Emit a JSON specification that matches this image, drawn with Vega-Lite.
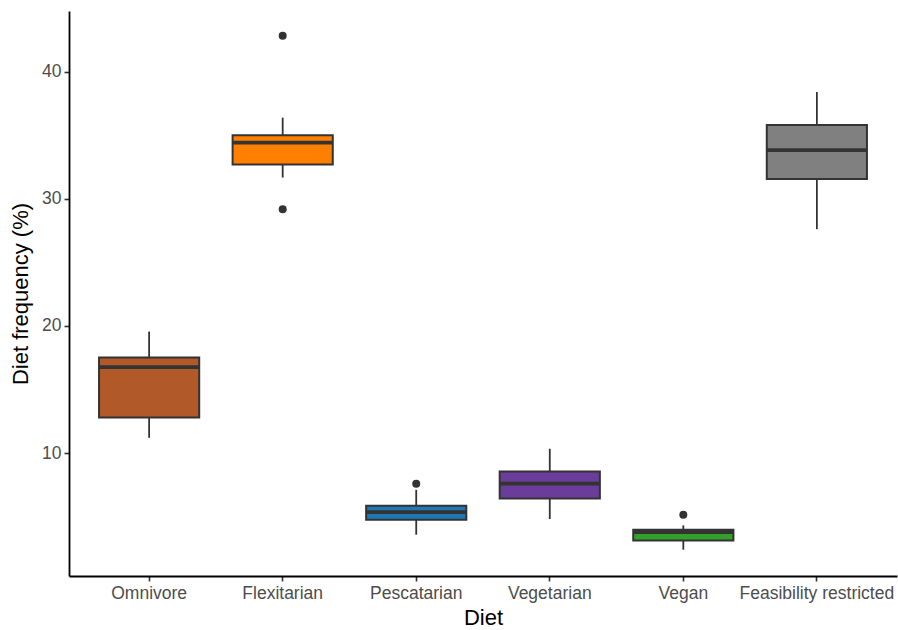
{
  "$schema": "https://vega.github.io/schema/vega-lite/v6.json",
  "autosize": {"type": "none"},
  "width": 828,
  "height": 565,
  "padding": {"left": 69, "top": 11, "right": 1, "bottom": 54},
  "background": "white",
  "config": {
    "view": {"stroke": null},
    "font": "Liberation Sans",
    "axis": {
      "grid": false,
      "domainColor": "#000000",
      "domainWidth": 1.8,
      "tickColor": "#333333",
      "tickWidth": 1.6,
      "tickSize": 5,
      "labelColor": "#4D4D4D",
      "labelFontSize": 17.5,
      "labelFont": "Liberation Sans",
      "titleFont": "Liberation Sans",
      "titleFontSize": 22,
      "titleFontWeight": "normal",
      "titleColor": "#000000"
    }
  },
  "datasets": {
    "boxes": [
      {"diet": "Omnivore", "lower": 11.2, "q1": 12.8, "median": 16.76, "q3": 17.52, "upper": 19.56},
      {"diet": "Flexitarian", "lower": 31.67, "q1": 32.69, "median": 34.42, "q3": 35.0, "upper": 36.38},
      {"diet": "Pescatarian", "lower": 3.58, "q1": 4.76, "median": 5.36, "q3": 5.86, "upper": 7.11},
      {"diet": "Vegetarian", "lower": 4.81, "q1": 6.43, "median": 7.59, "q3": 8.55, "upper": 10.34},
      {"diet": "Vegan", "lower": 2.4, "q1": 3.13, "median": 3.79, "q3": 3.97, "upper": 4.31},
      {"diet": "Feasibility restricted", "lower": 27.61, "q1": 31.56, "median": 33.82, "q3": 35.81, "upper": 38.4}
    ],
    "outliers": [
      {"diet": "Flexitarian", "value": 42.83},
      {"diet": "Flexitarian", "value": 29.18},
      {"diet": "Pescatarian", "value": 7.59},
      {"diet": "Vegan", "value": 5.15}
    ]
  },
  "encoding": {
    "x": {
      "field": "diet",
      "type": "nominal",
      "sort": ["Omnivore", "Flexitarian", "Pescatarian", "Vegetarian", "Vegan", "Feasibility restricted"],
      "scale": {"type": "band", "paddingInner": 0, "paddingOuter": 0.1},
      "axis": {"title": "Diet", "labelAngle": 0, "labelPadding": 3, "titlePadding": 6}
    }
  },
  "layer": [
    {
      "data": {"name": "boxes"},
      "mark": {"type": "rule", "color": "#333333", "strokeWidth": 1.8},
      "encoding": {
        "y": {
          "field": "lower",
          "type": "quantitative",
          "scale": {"domain": [0.33, 44.77], "nice": false, "zero": false},
          "axis": {"title": "Diet frequency (%)", "values": [10, 20, 30, 40], "labelPadding": 3, "titlePadding": 9}
        },
        "y2": {"field": "upper"}
      }
    },
    {
      "data": {"name": "boxes"},
      "mark": {"type": "bar", "width": {"band": 0.75}, "stroke": "#333333", "strokeWidth": 2, "opacity": 1},
      "encoding": {
        "y": {"field": "q1", "type": "quantitative"},
        "y2": {"field": "q3"},
        "fill": {
          "field": "diet",
          "type": "nominal",
          "scale": {
            "domain": ["Omnivore", "Flexitarian", "Pescatarian", "Vegetarian", "Vegan", "Feasibility restricted"],
            "range": ["#B15928", "#FF7F00", "#1F78B4", "#6A3D9A", "#33A02C", "#808080"]
          },
          "legend": null
        }
      }
    },
    {
      "data": {"name": "boxes"},
      "mark": {"type": "tick", "color": "#333333", "thickness": 3.8, "size": 100, "opacity": 1},
      "encoding": {
        "y": {"field": "median", "type": "quantitative"}
      }
    },
    {
      "data": {"name": "outliers"},
      "mark": {"type": "circle", "color": "#333333", "size": 64, "opacity": 1},
      "encoding": {
        "y": {"field": "value", "type": "quantitative"}
      }
    }
  ]
}
